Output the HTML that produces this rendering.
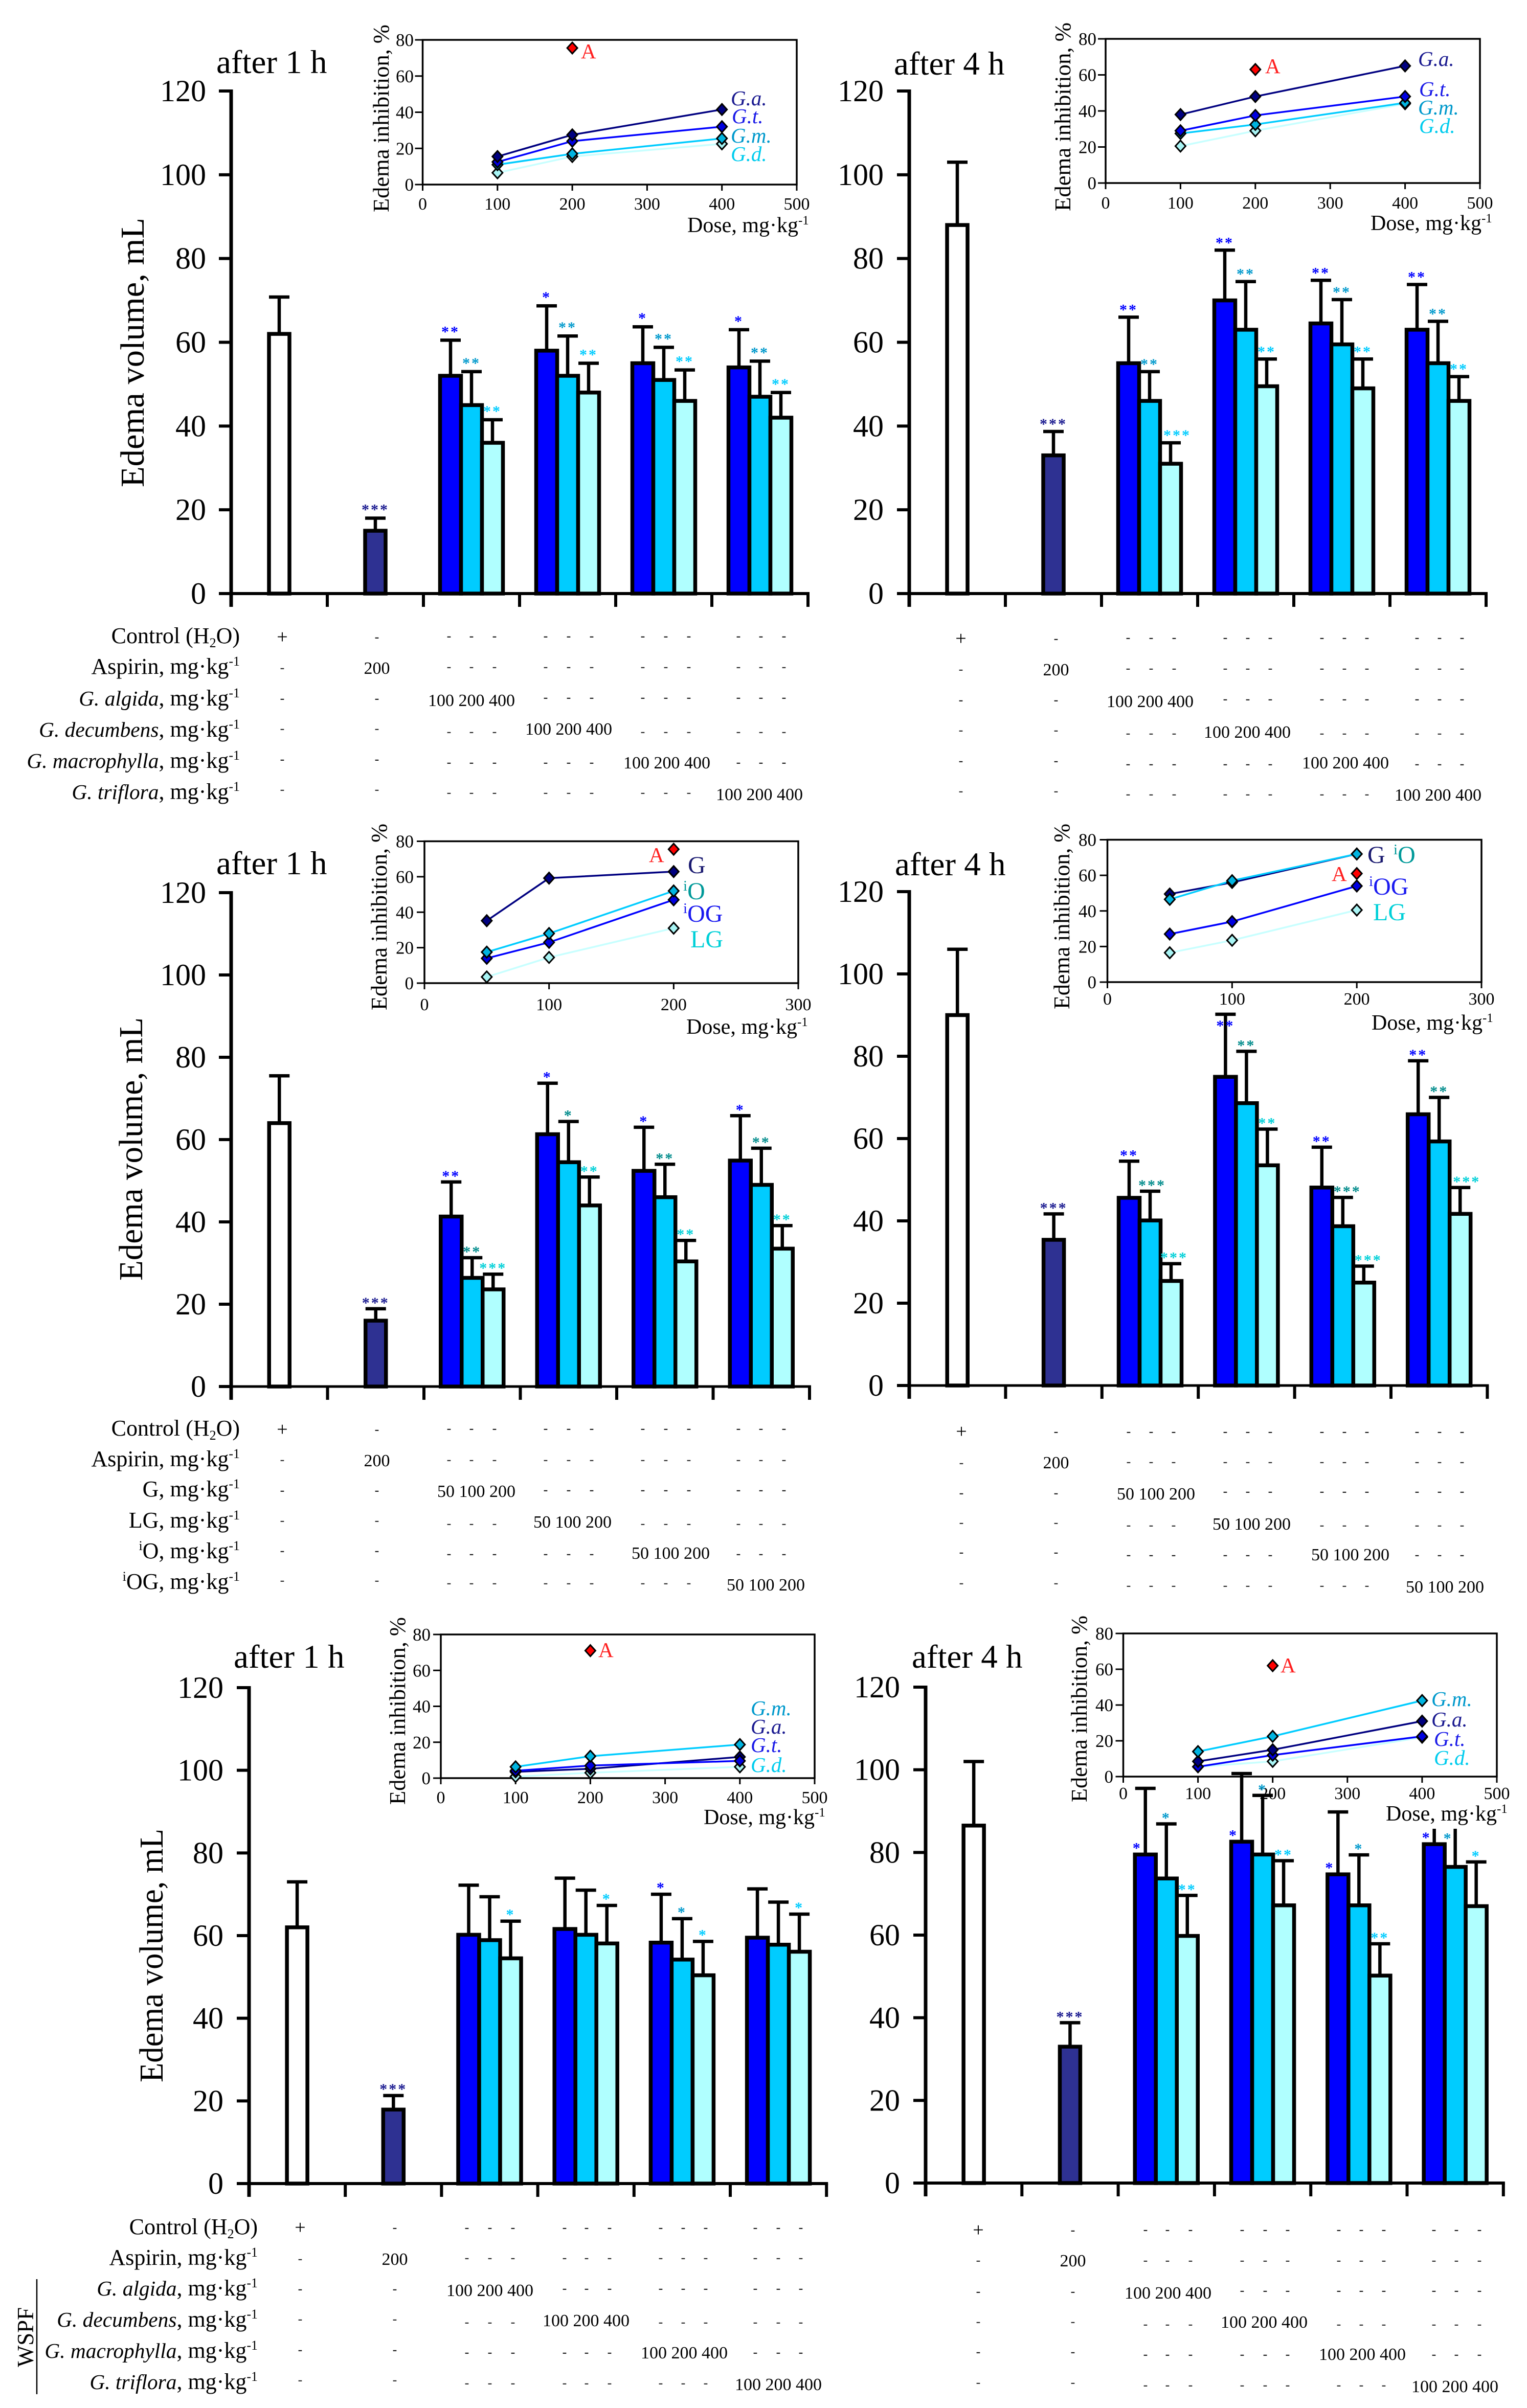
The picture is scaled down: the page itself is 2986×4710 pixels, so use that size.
<!DOCTYPE html>
<html lang="en">
<head>
<meta charset="utf-8">
<title>Edema volume and inhibition charts</title>
<style>
html,body{margin:0;padding:0;background:#fff;}
svg{display:block;font-family:"Liberation Serif",serif;}
</style>
</head>
<body>
<svg id="chart" xmlns="http://www.w3.org/2000/svg" width="2986" height="4710" viewBox="0 0 2986 4710">
<rect x="0" y="0" width="2986" height="4710" fill="#ffffff"></rect>
</svg>
<script>
/* ---------- shared tick labels and categories ---------- */
const volumeTicks = [0, 20, 40, 60, 80, 100, 120];
const inhibitionTicks = [0, 20, 40, 60, 80];
const wspfDoseTicks = [0, 100, 200, 300, 400, 500];
const fractionDoseTicks = [0, 100, 200, 300];
const wspfDoses = [100, 200, 400];
const fractionDoses = [50, 100, 200];
const barCategories = ['control', 'aspirin', 'g1-low', 'g1-mid', 'g1-high', 'g2-low', 'g2-mid', 'g2-high', 'g3-low', 'g3-mid', 'g3-high', 'g4-low', 'g4-mid', 'g4-high'];

/* ---------- panel A: WSPF, after 1 h ---------- */
const aMeans = [62, 15, 52, 45, 36, 58, 52, 48, 55, 51, 46, 54, 47, 42];
const aTops = [70.8, 18, 60.5, 53, 41.5, 68.7, 61.5, 55, 63.7, 58.8, 53.4, 63, 55.5, 48];
const aStars = [0, 3, 2, 2, 2, 1, 2, 2, 1, 2, 2, 1, 2, 2];
const aInsetGa = [15.5, 27.5, 41.5];
const aInsetGt = [12.5, 24, 32];
const aInsetGm = [11, 17, 25.5];
const aInsetGd = [6.5, 15.5, 22.5];
const aInsetAspirin = 75.5;

/* ---------- panel B: WSPF, after 4 h ---------- */
const bMeans = [88, 33, 55, 46, 31, 70, 63, 49.5, 64.5, 59.5, 49, 63, 55, 46];
const bTops = [103, 38.7, 66, 53, 36, 82, 74.5, 56, 74.8, 70.2, 56, 73.8, 65, 51.8];
const bStars = [0, 3, 2, 2, 3, 2, 2, 2, 2, 2, 2, 2, 2, 2];
const bInsetGa = [38, 48, 65];
const bInsetGt = [29, 37.5, 48];
const bInsetGm = [27.5, 32.5, 44.5];
const bInsetGd = [20.5, 29, 44];
const bInsetAspirin = 63;

/* ---------- panel C: fractions, after 1 h ---------- */
const cMeans = [64, 16, 41.3, 26.4, 23.6, 61.3, 54.5, 44, 52.4, 46, 30.4, 54.9, 49, 33.5];
const cTops = [75.5, 18.9, 49.7, 31.3, 27.3, 73.7, 64.4, 50.9, 63, 54, 35.5, 65.8, 57.9, 39.1];
const cStars = [0, 3, 2, 2, 3, 1, 1, 2, 1, 2, 2, 1, 2, 2];
const cInsetG = [35.2, 59.2, 62.9];
const cInsetO = [17.5, 28, 52];
const cInsetOG = [14, 23, 47];
const cInsetLG = [3.5, 14.5, 31];
const cInsetAspirin = 75.5;

/* ---------- panel D: fractions, after 4 h ---------- */
const dMeans = [90, 35.4, 45.6, 40.1, 25.4, 75, 68.6, 53.5, 48.1, 38.7, 25, 65.9, 59.3, 41.7];
const dTops = [106, 41.7, 54.5, 47.2, 29.6, 90.2, 81.2, 62.3, 57.9, 45.7, 29, 78.9, 70, 48.1];
const dStars = [0, 3, 2, 3, 3, 2, 2, 2, 2, 3, 3, 2, 2, 3];
const dInsetG = [49.5, 56, 72];
const dInsetO = [46.5, 57, 72];
const dInsetOG = [27, 34, 54];
const dInsetLG = [16.5, 23.5, 40.5];
const dInsetAspirin = 61;

/* ---------- panel E: WSPF, after 1 h ---------- */
const eMeans = [62, 17.9, 60.2, 58.9, 54.5, 61.6, 60.2, 58.1, 58.3, 54.2, 50.4, 59.5, 57.8, 56.1];
const eTops = [73, 21.3, 72.2, 69.4, 63.5, 73.9, 71, 67.3, 70, 64.1, 58.6, 71.3, 68.1, 65.2];
const eStars = [0, 3, 0, 0, 1, 0, 0, 1, 1, 1, 1, 0, 0, 1];
const eInsetGm = [6.3, 12.2, 18.7];
const eInsetGa = [3.5, 5.2, 11.8];
const eInsetGt = [4.1, 7, 9.6];
const eInsetGd = [0.9, 3, 6.3];
const eInsetAspirin = 71;

/* ---------- panel F: WSPF, after 4 h ---------- */
const fMeans = [86.5, 33, 79.5, 73.7, 59.8, 82.6, 79.5, 67.2, 74.7, 67.2, 50.2, 82, 76.5, 67];
const fTops = [102, 38.8, 95.5, 86.9, 69.6, 99.1, 93.8, 78, 89.8, 79.4, 57.9, 88, 88, 77.7];
const fStars = [0, 3, 1, 1, 2, 1, 1, 2, 1, 1, 2, 1, 1, 1];
const fInsetGm = [14, 22.5, 42.5];
const fInsetGa = [8.5, 15, 31];
const fInsetGt = [5.5, 12, 22.5];
const fInsetGd = [5.5, 8.5, 22];
const fInsetAspirin = 62;

/* ---------- table text ---------- */
const wspfRowNames = [
  [{t:'Control (H'},{t:'2',sub:1},{t:'O)'}],
  [{t:'Aspirin, mg·kg'},{t:'-1',sup:1}],
  [{t:'G. algida',i:1},{t:', mg·kg'},{t:'-1',sup:1}],
  [{t:'G. decumbens',i:1},{t:', mg·kg'},{t:'-1',sup:1}],
  [{t:'G. macrophylla',i:1},{t:', mg·kg'},{t:'-1',sup:1}],
  [{t:'G. triflora',i:1},{t:', mg·kg'},{t:'-1',sup:1}]
];
const fractionRowNames = [
  [{t:'Control (H'},{t:'2',sub:1},{t:'O)'}],
  [{t:'Aspirin, mg·kg'},{t:'-1',sup:1}],
  [{t:'G, mg·kg'},{t:'-1',sup:1}],
  [{t:'LG, mg·kg'},{t:'-1',sup:1}],
  [{t:'i',sup:1},{t:'O, mg·kg',after:1},{t:'-1',sup:1}],
  [{t:'i',sup:1},{t:'OG, mg·kg',after:1},{t:'-1',sup:1}]
];
const wspfDoseText = '100 200 400';
const fractionDoseText = '50 100 200';

/* ---------- drawing helpers ---------- */
const NS = 'http://www.w3.org/2000/svg';
const root = document.getElementById('chart');
const SERIES_NAVY = '#000080', SERIES_BLUE = '#0000ff', SERIES_CYAN = '#00ccff', SERIES_PALE = '#b0ffff';

function mk(tag, attrs, parent) {
  const el = document.createElementNS(NS, tag);
  for (const k in attrs) el.setAttribute(k, attrs[k]);
  parent.appendChild(el);
  return el;
}
function txt(parent, x, y, str, size, extra) {
  const el = mk('text', Object.assign({x: x, y: y, 'font-size': size, fill: '#000'}, extra || {}), parent);
  el.textContent = str;
  return el;
}
function rich(parent, x, y, anchor, size, segs, fill, italicScale) {
  const el = mk('text', {x: x, y: y, 'font-size': size, 'text-anchor': anchor, fill: fill || '#000'}, parent);
  let shift = 0;
  segs.forEach(s => {
    const span = mk('tspan', {}, el);
    span.textContent = s.t;
    let target = 0;
    if (s.sup) { target = -Math.round(size * 0.36); span.setAttribute('font-size', Math.round(size * 0.6)); }
    if (s.sub) { target = Math.round(size * 0.18); span.setAttribute('font-size', Math.round(size * 0.6)); }
    if (s.i) {
      span.setAttribute('font-style', 'italic');
      if (italicScale) span.setAttribute('font-size', size * italicScale);
    }
    if (target !== shift) { span.setAttribute('dy', target - shift); shift = target; }
  });
  return el;
}

function drawInset(parent, c) {
  const g = mk('g', {}, parent);
  
  
  const X = d => c.left + (c.right - c.left) * d / c.xMax;
  const Y = v => c.bottom - (c.bottom - c.top) * v / 80;

  const frame = mk('path', {d: 'M' + c.left + ' ' + c.top + 'H' + c.right + 'V' + c.bottom + 'H' + c.left + 'Z', fill: 'none', stroke: '#000', 'stroke-width': 3.5}, g);
  
  

  inhibitionTicks.forEach(v => {
    const t = mk('line', {x1: c.left - 15, x2: c.left, y1: Y(v), y2: Y(v), stroke: '#000', 'stroke-width': 3}, g);
    
    
    const l = txt(g, c.tickRight, Y(v) + 12, String(v), 35, {'text-anchor': 'end'});
    
    
  });
  c.xTicks.forEach(v => {
    const t = mk('line', {x1: X(v), x2: X(v), y1: c.bottom, y2: c.bottom + 12, stroke: '#000', 'stroke-width': 3}, g);
    
    
    const l = txt(g, X(v), c.tickBase, String(v), 34, {'text-anchor': 'middle'});
    
    
  });

  const yl = txt(g, 0, 0, 'Edema inhibition, %', 44, {
    transform: 'translate(' + c.yTitleX + ',' + c.yTitleBottom + ') rotate(-90)',
    textLength: c.yTitleBottom - c.yTitleTop, lengthAdjust: 'spacingAndGlyphs'});
  
  

  c.series.forEach(s => {
    const pts = s.vals.map((v, i) => X(c.doses[i]) + ',' + Y(v)).join(' ');
    const line = mk('polyline', {points: pts, fill: 'none', stroke: s.line, 'stroke-width': 3.5}, g);
    
    
  });
  c.series.forEach(s => {
    s.vals.forEach((v, i) => {
      const x = X(c.doses[i]), y = Y(v);
      const m = mk('polygon', {points: x + ',' + (y - 11) + ' ' + (x + 10) + ',' + y + ' ' + x + ',' + (y + 11) + ' ' + (x - 10) + ',' + y, fill: s.fill, stroke: '#000', 'stroke-width': 3}, g);
      
      
    });
    const lab = rich(g, s.lx, s.ly, 'start', c.labelSize, s.label, s.color);
    
    
  });

  const ax = X(200), ay = Y(c.aspirin);
  const am = mk('polygon', {points: ax + ',' + (ay - 11) + ' ' + (ax + 10) + ',' + ay + ' ' + ax + ',' + (ay + 11) + ' ' + (ax - 10) + ',' + ay, fill: '#ff0000', stroke: '#000', 'stroke-width': 3}, g);
  
  
  const al = txt(g, c.aX, c.aY, 'A', 41, {fill: '#ff2020'});
  
  
}

function drawDoseTitle(parent, c) {
  if (c.doseBox) {
    const box = mk('rect', {x: c.doseX - 2, y: c.doseBase - 34, width: c.doseBox, height: 50, fill: '#fff'}, parent);
    
    
  }
  const d = rich(parent, c.doseX, c.doseBase, 'start', 42, [{t: 'Dose, mg·kg'}, {t: '-1', sup: 1}]);
  
  
}

function drawBars(parent, p) {
  const g = mk('g', {}, parent);
  
  
  const Y = v => p.y0 - (p.y0 - p.y120) * v / 120;
  const tickX = i => p.axisX + i * p.step;
  const barCenter = i => {
    if (i < 2) return tickX(i) + p.step / 2;
    const grp = Math.floor((i - 2) / 3), k = (i - 2) % 3;
    return tickX(grp + 2) + p.step / 2 + (k - 1) * 41;
  };
  const barWidth = i => i < 2 ? 40 : 41;
  const barFill = i => {
    if (i === 0) return '#ffffff';
    if (i === 1) return '#2e3192';
    return [SERIES_BLUE, SERIES_CYAN, SERIES_PALE][(i - 2) % 3];
  };

  p.means.forEach((v, i) => {
    const cx = barCenter(i), top = Y(p.tops[i]);
    const err = mk('line', {x1: cx, x2: cx, y1: Y(v), y2: top, stroke: '#000', 'stroke-width': 6.5}, g);
    
    
    const cap = mk('line', {x1: cx - 20, x2: cx + 20, y1: top, y2: top, stroke: '#000', 'stroke-width': 6.5}, g);
    
    
  });
  p.means.forEach((v, i) => {
    const cx = barCenter(i), w = barWidth(i);
    const r = mk('rect', {x: cx - w / 2, y: Y(v), width: w, height: p.y0 - Y(v), fill: barFill(i), stroke: '#000', 'stroke-width': 7.5}, g);
    
    
  });
  p.stars.forEach((n, i) => {
    if (!n) return;
    const fix = p.starFix[i] || [0, p.starDy, false];
    const col = i === 1 ? '#1a1a90' : p.starColors[(i - 2) % 3];
    const anchorV = fix[2] ? p.means[i] : p.tops[i];
    const s = txt(g, barCenter(i) + fix[0], Y(anchorV) - fix[1] + 14, '*'.repeat(n), 30, {'text-anchor': 'middle', 'letter-spacing': 3, fill: col, 'font-weight': 'bold'});
    
    
  });

  const yAxis = mk('line', {x1: p.axisX, x2: p.axisX, y1: p.y120 - 3, y2: p.y0 + 26, stroke: '#000', 'stroke-width': 7}, g);
  
  
  const xAxis = mk('line', {x1: p.axisX - 24, x2: tickX(6) + 3, y1: p.y0, y2: p.y0, stroke: '#000', 'stroke-width': p.axisWeight}, g);
  
  
  volumeTicks.forEach(v => {
    const t = mk('line', {x1: p.axisX - 24, x2: p.axisX, y1: Y(v), y2: Y(v), stroke: '#000', 'stroke-width': 6}, g);
    
    
    const l = txt(g, p.tickRight, Y(v) + 20, String(v), 60, {'text-anchor': 'end'});
    
    
  });
  for (let i = 0; i <= 6; i++) {
    const t = mk('line', {x1: tickX(i), x2: tickX(i), y1: p.y0, y2: p.y0 + 26, stroke: '#000', 'stroke-width': 6}, g);
    
    
  }
  const title = txt(g, p.titleX, p.titleY, p.title, 65);
  
  
  if (p.yTitle) {
    const yt = txt(g, 0, 0, 'Edema volume, mL', 66, {
      transform: 'translate(' + p.yTitle[0] + ',' + (p.yTitle[1] + p.yTitle[2]) + ') rotate(-90)',
      textLength: p.yTitle[2], lengthAdjust: 'spacingAndGlyphs'});
    
    
  }
}

function dash(parent, x, y, fill) {
  const d = txt(parent, x, y + 6, '-', 26, {'text-anchor': 'middle', 'font-weight': 'bold', fill: fill});
  
  
}

function drawTable(parent, t) {
  const g = mk('g', {}, parent);
  
  
  if (t.names) {
    t.names.forEach((segs, r) => {
      const l = rich(g, t.labelRight, t.base[r], 'end', 44, segs, '#000', 0.94);
      
      
    });
  }
  for (let r = 0; r < 6; r++) {
    const shade = r % 2 ? '#333' : '#222';
    if (r === 0) {
      const plus = txt(g, t.col1, t.dot1[0] + 10, '+', 38, {'text-anchor': 'middle'});
      
      
    } else {
      dash(g, t.col1, t.dot1[r], shade);
    }
    if (r === 1) {
      const a = txt(g, t.col2, t.aspBase, '200', 34, {'text-anchor': 'middle'});
      
      
    } else {
      dash(g, t.col2, t.dot1[r], shade);
    }
    t.groups.forEach((xs, grp) => {
      if (grp === r - 2) {
        const n = txt(g, t.numX[grp], t.numBase[grp], t.doseText, 34, {'xml:space': 'preserve'});
        
        
      } else {
        xs.forEach(x => dash(g, x, t.dot2[r], shade));
      }
    });
  }
}

/* ---------- inset series builders ---------- */
function wspfSeries(order, pos) {
  return order.map((o, i) => ({key: o.key, vals: o.vals, line: o.line, fill: o.fill, color: o.color,
    label: [{t: o.text, i: 1}], lx: pos[i][0], ly: pos[i][1]}));
}
const GA = v => ({key: 'g-a', text: 'G.a.', vals: v, line: '#000080', fill: '#000080', color: '#1a1a90'});
const GT = v => ({key: 'g-t', text: 'G.t.', vals: v, line: '#0000ff', fill: '#0000e0', color: '#1a1ae8'});
const GM = v => ({key: 'g-m', text: 'G.m.', vals: v, line: '#00ccff', fill: '#00b4e0', color: '#0099cc'});
const GD = v => ({key: 'g-d', text: 'G.d.', vals: v, line: '#c8ffff', fill: '#a8f4f4', color: '#00ccee'});
const FG = v => ({key: 'g', vals: v, line: '#000080', fill: '#000080', color: '#1a1a70', label: [{t: 'G'}]});
const FO = v => ({key: 'io', vals: v, line: '#00ccff', fill: '#00b4e0', color: '#009999', label: [{t: 'i', sup: 1}, {t: 'O'}]});
const FOG = v => ({key: 'iog', vals: v, line: '#0000ff', fill: '#0000e0', color: '#1a1af0', label: [{t: 'i', sup: 1}, {t: 'OG'}]});
const FLG = v => ({key: 'lg', vals: v, line: '#c8ffff', fill: '#a8f4f4', color: '#00d0d8', label: [{t: 'LG'}]});
function placed(s, x, y) { return Object.assign({}, s, {lx: x, ly: y}); }

const wspfColors = [SERIES_BLUE, '#0099cc', '#00ccff'];
const fractionColors = [SERIES_BLUE, '#008b8b', '#00d0d8'];

/* ---------- panels ---------- */
const panels = [
  {
    bars: {id: 'panel-a', means: aMeans, tops: aTops, stars: aStars, axisX: 452, step: 188, y120: 178, y0: 1161, axisWeight: 6, tickRight: 403,
      title: 'after 1 h', titleX: 423, titleY: 143, yTitle: [281, 426, 527], starDy: 21, starFix: {}, starColors: wspfColors},
    inset: {id: 'panel-a', left: 826.5, right: 1558, top: 78, bottom: 361, xMax: 500, xTicks: wspfDoseTicks, doses: wspfDoses, tickRight: 809, tickBase: 410,
      yTitleX: 760, yTitleTop: 48, yTitleBottom: 415, doseX: 1344, doseBase: 454, labelSize: 41, aspirin: aInsetAspirin, aX: 1136, aY: 114,
      series: wspfSeries([GD(aInsetGd), GM(aInsetGm), GT(aInsetGt), GA(aInsetGa)], [[1429, 315], [1429, 279], [1431, 241], [1429, 206]])},
    table: {id: 'panel-a', names: wspfRowNames, labelRight: 469, base: [1258, 1318, 1380, 1441, 1502, 1563], col1: 552, col2: 737, aspBase: 1318,
      dot1: [1248, 1308, 1368, 1427, 1487, 1546], dot2: [1246, 1306, 1366, 1433, 1493, 1552],
      groups: [[878, 922, 967], [1067, 1112, 1157], [1257, 1302, 1347], [1444, 1488, 1533]],
      numX: [837, 1027, 1219, 1400], numBase: [1381, 1437, 1503, 1565], doseText: wspfDoseText}
  },
  {
    bars: {id: 'panel-b', means: bMeans, tops: bTops, stars: bStars, axisX: 1778, step: 188, y120: 178, y0: 1161, axisWeight: 6, tickRight: 1728,
      title: 'after 4 h', titleX: 1748, titleY: 146, starDy: 19, starFix: {4: [13, 19]}, starColors: wspfColors},
    inset: {id: 'panel-b', left: 2162, right: 2894, top: 76, bottom: 358, xMax: 500, xTicks: wspfDoseTicks, doses: wspfDoses, tickRight: 2144, tickBase: 408,
      yTitleX: 2093, yTitleTop: 44, yTitleBottom: 413, doseX: 2680, doseBase: 450, labelSize: 41, aspirin: bInsetAspirin, aX: 2474, aY: 143,
      series: wspfSeries([GD(bInsetGd), GM(bInsetGm), GT(bInsetGt), GA(bInsetGa)], [[2775, 260], [2773, 224], [2775, 188], [2773, 129]])},
    table: {id: 'panel-b', col1: 1879, col2: 2065, aspBase: 1321,
      dot1: [1251, 1311, 1371, 1430, 1490, 1549], dot2: [1249, 1309, 1369, 1436, 1496, 1555],
      groups: [[2206, 2251, 2296], [2396, 2440, 2484], [2585, 2629, 2673], [2771, 2815, 2859]],
      numX: [2164, 2354, 2546, 2727], numBase: [1383, 1443, 1503, 1566], doseText: wspfDoseText}
  },
  {
    bars: {id: 'panel-c', means: cMeans, tops: cTops, stars: cStars, axisX: 452, step: 188.5, y120: 1746, y0: 2712, axisWeight: 5, tickRight: 403,
      title: 'after 1 h', titleX: 423, titleY: 1710, yTitle: [278, 1990, 515], starDy: 16, starFix: {}, starColors: fractionColors},
    inset: {id: 'panel-c', left: 830, right: 1561, top: 1645.5, bottom: 1923, xMax: 300, xTicks: fractionDoseTicks, doses: fractionDoses, tickRight: 809, tickBase: 1976,
      yTitleX: 756, yTitleTop: 1611, yTitleBottom: 1976, doseX: 1342, doseBase: 2022, labelSize: 48, aspirin: cInsetAspirin, aX: 1269, aY: 1686,
      series: [placed(FLG(cInsetLG), 1350, 1853), placed(FOG(cInsetOG), 1336, 1803), placed(FO(cInsetO), 1336, 1759), placed(FG(cInsetG), 1345, 1708)]},
    table: {id: 'panel-c', names: fractionRowNames, labelRight: 469, base: [2808, 2868, 2927, 2988, 3048, 3108], col1: 552, col2: 737, aspBase: 2868,
      dot1: [2798, 2857, 2917, 2976, 3035, 3093], dot2: [2796, 2857, 2916, 2982, 3041, 3098],
      groups: [[878, 922, 967], [1067, 1112, 1157], [1257, 1302, 1347], [1444, 1488, 1533]],
      numX: [855, 1043, 1235, 1421], numBase: [2928, 2988, 3049, 3111], doseText: fractionDoseText}
  },
  {
    bars: {id: 'panel-d', means: dMeans, tops: dTops, stars: dStars, axisX: 1778, step: 188.4, y120: 1744, y0: 2710, axisWeight: 5, tickRight: 1728,
      title: 'after 4 h', titleX: 1750, titleY: 1712, starDy: 16, starFix: {3: [4, 16], 4: [6, 16], 5: [0, -18], 9: [9, 16], 10: [9, 16], 13: [13, 16]}, starColors: fractionColors},
    inset: {id: 'panel-d', left: 2165.5, right: 2897, top: 1642.5, bottom: 1921, xMax: 300, xTicks: fractionDoseTicks, doses: fractionDoses, tickRight: 2144, tickBase: 1965,
      yTitleX: 2091, yTitleTop: 1611, yTitleBottom: 1974, doseX: 2682, doseBase: 2014, labelSize: 48, aspirin: dInsetAspirin, aX: 2604, aY: 1723,
      series: [placed(FLG(dInsetLG), 2685, 1800), placed(FOG(dInsetOG), 2677, 1750), placed(FG(dInsetG), 2674, 1688), placed(FO(dInsetO), 2725, 1688)]},
    table: {id: 'panel-d', col1: 1880, col2: 2065, aspBase: 2872,
      dot1: [2802, 2863, 2922, 2980, 3038, 3098], dot2: [2802, 2861, 2919, 2985, 3043, 3103],
      groups: [[2207, 2251, 2295], [2396, 2440, 2484], [2585, 2629, 2673], [2771, 2815, 2859]],
      numX: [2184, 2371, 2564, 2749], numBase: [2933, 2992, 3052, 3115], doseText: fractionDoseText}
  },
  {
    bars: {id: 'panel-e', means: eMeans, tops: eTops, stars: eStars, axisX: 487, step: 188.2, y120: 3301, y0: 4271, axisWeight: 6, tickRight: 437,
      title: 'after 1 h', titleX: 457, titleY: 3262, yTitle: [318, 3577, 496], starDy: 17, starFix: {}, starColors: wspfColors},
    inset: {id: 'panel-e', left: 862, right: 1593, top: 3197, bottom: 3478, xMax: 500, xTicks: wspfDoseTicks, doses: wspfDoses, tickRight: 842, tickBase: 3527,
      yTitleX: 792, yTitleTop: 3163, yTitleBottom: 3530, doseX: 1376, doseBase: 3568, labelSize: 41, aspirin: eInsetAspirin, aX: 1170, aY: 3241,
      series: wspfSeries([GD(eInsetGd), GA(eInsetGa), GT(eInsetGt), GM(eInsetGm)], [[1468, 3466], [1468, 3391], [1468, 3427], [1468, 3355]])},
    table: {id: 'panel-e', names: wspfRowNames, labelRight: 504, base: [4370, 4430, 4490, 4551, 4612, 4673], col1: 587, col2: 772, aspBase: 4430,
      dot1: [4359, 4420, 4479, 4538, 4598, 4657], dot2: [4359, 4418, 4478, 4544, 4603, 4663],
      groups: [[913, 958, 1003], [1104, 1147, 1192], [1292, 1336, 1380], [1477, 1522, 1566]],
      numX: [873, 1061, 1253, 1437], numBase: [4491, 4550, 4613, 4675], doseText: wspfDoseText}
  },
  {
    bars: {id: 'panel-f', means: fMeans, tops: fTops, stars: fStars, axisX: 1810, step: 188.3, y120: 3300, y0: 4270, axisWeight: 6, tickRight: 1760,
      title: 'after 4 h', titleX: 1783, titleY: 3262, starDy: 16,
      starFix: {2: [-16, 17, true], 5: [-16, 17, true], 8: [-16, 17, true], 11: [-15, 17, true], 12: [-14, 60, true]}, starColors: wspfColors},
    inset: {id: 'panel-f', left: 2196.5, right: 2927, top: 3195, bottom: 3475, xMax: 500, xTicks: wspfDoseTicks, doses: wspfDoses, tickRight: 2177, tickBase: 3519,
      yTitleX: 2125, yTitleTop: 3160, yTitleBottom: 3525, doseX: 2710, doseBase: 3561, doseBox: 240, labelSize: 41, aspirin: fInsetAspirin, aX: 2504, aY: 3271,
      series: wspfSeries([GD(fInsetGd), GT(fInsetGt), GA(fInsetGa), GM(fInsetGm)], [[2804, 3452], [2804, 3415], [2799, 3377], [2799, 3337]])},
    table: {id: 'panel-f', col1: 1913, col2: 2098, aspBase: 4433,
      dot1: [4364, 4423, 4484, 4543, 4602, 4662], dot2: [4363, 4423, 4482, 4548, 4607, 4667],
      groups: [[2240, 2283, 2328], [2429, 2474, 2518], [2618, 2662, 2706], [2804, 2848, 2893]],
      numX: [2199, 2387, 2579, 2760], numBase: [4496, 4553, 4616, 4679], doseText: wspfDoseText}
  }
];

panels.forEach(p => {
  const g = mk('g', {}, root);
  
  
  drawInset(g, p.inset);
  drawBars(g, p.bars);
  drawDoseTitle(g, p.inset);
  drawTable(g, p.table);
});

/* WSPF bracket on the last table */
const wspfText = txt(root, 0, 0, 'WSPF', 45, {transform: 'translate(65,4630) rotate(-90)', textLength: 117, lengthAdjust: 'spacingAndGlyphs'});


const wspfLine = mk('line', {x1: 72, x2: 72, y1: 4458, y2: 4683, stroke: '#000', 'stroke-width': 2.5}, root);


</script>
</body>
</html>
